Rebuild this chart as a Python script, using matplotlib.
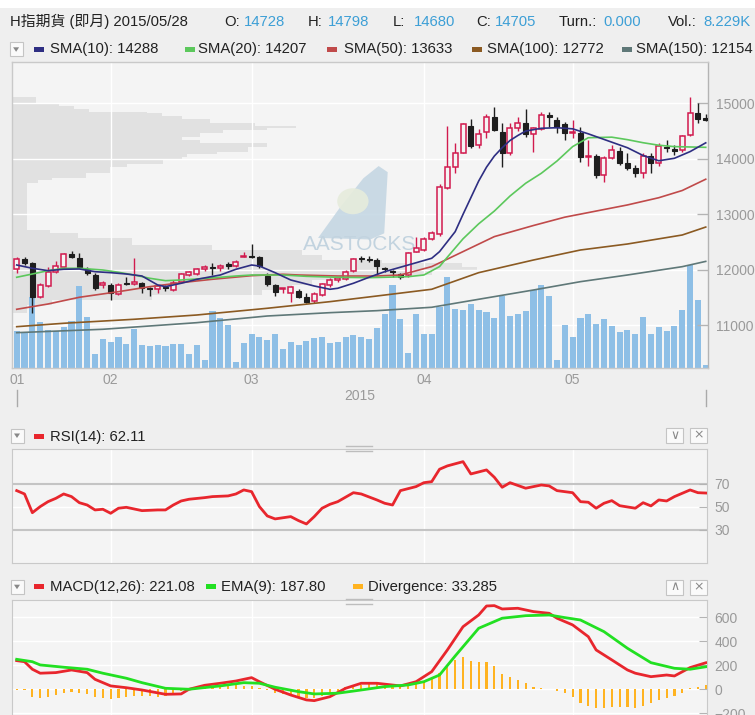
import numpy as np
import matplotlib
matplotlib.use("Agg")
import matplotlib.pyplot as plt
from matplotlib.patches import Rectangle, Polygon, Ellipse
from matplotlib.lines import Line2D
import matplotlib.transforms as mtransforms

# ---------------- data ----------------
instrument = "H指期貨 (即月)"
last_date = "2015/05/28"
month_labels = ["01", "02", "03", "04", "05"]
month_start_idx = [0, 12, 30, 52, 71]
year_label = "2015"

opens = [12012, 12192, 12120, 11519, 11711, 11969, 12059, 12287, 12210, 12012,
         11909, 11729, 11729, 11567, 11760, 11747, 11760, 11670, 11652, 11688,
         11639, 11789, 11909, 11922, 12012, 12059, 12030, 12102, 12071, 12228,
         12251, 12228, 11891, 11724, 11652, 11579, 11621, 11519, 11441, 11549,
         11729, 11819, 11842, 11981, 12210, 12200, 12174, 12030, 11981, 11922,
         11909, 12329, 12359, 12557, 12642, 13470, 13859, 14111, 14597, 14249,
         14489, 14759, 14489, 14100, 14550, 14640, 14449, 14532, 14789, 14699,
         14627, 14471, 14471, 14040, 14051, 13710, 14010, 14141, 13920, 13830,
         13740, 14057, 13920, 14219, 14180, 14159, 14429, 14820, 14728]
highs = [12228, 12228, 12150, 11771, 12048, 12167, 12311, 12347, 12311, 12059,
         11940, 11807, 11760, 11760, 11879, 12210, 11789, 11699, 11729, 11729,
         11819, 11940, 11981, 12041, 12089, 12131, 12107, 12149, 12179, 12330,
         12467, 12251, 11940, 11747, 11680, 11711, 11652, 11579, 11609, 11771,
         11849, 11879, 11999, 12221, 12251, 12251, 12221, 12059, 11999, 11951,
         12329, 12599, 12599, 12701, 13553, 14597, 14280, 14640, 14712, 14540,
         14802, 14939, 14640, 14640, 14759, 14897, 14579, 14849, 14849, 14759,
         14669, 14699, 14579, 14339, 14082, 14051, 14249, 14219, 14100, 13889,
         14100, 14100, 14280, 14339, 14249, 14429, 15108, 15000, 14798]
lows = [11940, 12090, 11220, 11490, 11699, 11951, 12048, 12210, 12048, 11909,
        11639, 11670, 11459, 11549, 11729, 11729, 11591, 11531, 11580, 11627,
        11627, 11778, 11891, 11909, 11987, 11909, 11987, 12012, 12048, 12228,
        12210, 12030, 11711, 11531, 11580, 11429, 11490, 11399, 11399, 11531,
        11688, 11789, 11819, 11969, 12150, 12150, 11909, 11969, 11879, 11832,
        11879, 12318, 12341, 12539, 12606, 13452, 13740, 14100, 14190, 14190,
        14381, 14501, 13859, 14069, 14501, 14399, 14129, 14519, 14579, 14471,
        14339, 14370, 13949, 13871, 13650, 13589, 13992, 13889, 13799, 13679,
        13650, 13740, 13871, 14129, 14069, 14129, 14411, 14640, 14680]
closes = [12192, 12131, 11519, 11729, 11969, 12071, 12287, 12239, 12059, 11940,
          11670, 11760, 11591, 11729, 11742, 11789, 11670, 11652, 11711, 11670,
          11771, 11922, 11958, 12017, 12059, 12030, 12077, 12077, 12149, 12245,
          12228, 12077, 11747, 11609, 11665, 11688, 11519, 11429, 11561, 11742,
          11819, 11849, 11970, 12192, 12192, 12185, 12077, 12012, 11963, 11879,
          12300, 12390, 12552, 12660, 13499, 13859, 14111, 14622, 14231, 14442,
          14759, 14519, 14100, 14550, 14651, 14442, 14550, 14789, 14748, 14579,
          14471, 14489, 14039, 14051, 13710, 14010, 14160, 13920, 13830, 13740,
          14057, 13920, 14231, 14200, 14150, 14411, 14820, 14712, 14705]
volume_k = [92, 88, 178, 114, 94, 92, 102, 117, 204, 128,
            34, 72, 65, 78, 59, 98, 57, 55, 57, 54,
            60, 60, 36, 57, 21, 142, 124, 107, 15, 62,
            84, 78, 69, 84, 48, 65, 57, 68, 76, 78,
            62, 65, 78, 82, 78, 72, 101, 136, 207, 122,
            37, 136, 86, 86, 152, 228, 148, 146, 161, 146,
            140, 125, 180, 130, 136, 142, 194, 207, 180, 21,
            108, 78, 125, 134, 110, 122, 104, 90, 96, 86,
            128, 84, 102, 92, 104, 146, 257, 169, 8.229]
turnover = 0.000

sma10_idx = [0, 2, 4, 6, 8, 10, 12, 14, 16, 18, 19, 21, 23, 26, 28, 30, 31, 33, 35, 38,
             40, 41, 43, 45, 47, 50, 53, 54, 56, 57, 58, 59, 60, 61, 62, 63, 64, 65, 67, 69,
             71, 73, 75, 78, 80, 82, 84, 86, 88]
sma10_val = [12089, 12030, 11987, 12012, 12017, 11969, 11951, 11927, 11891, 11730,
             11699, 11760, 11831, 11909, 12012, 12089, 12070, 11951, 11819, 11711,
             11652, 11670, 11760, 11868, 11969, 12089, 12210, 12329, 12689, 13000,
             13300, 13600, 13850, 14050, 14200, 14330, 14420, 14500, 14550, 14560,
             14540, 14450, 14350, 14200, 14060, 13965, 14010, 14130, 14288]
sma20_idx = [0, 2, 4, 6, 8, 11, 13, 15, 17, 19, 21, 23, 26, 28, 30, 34, 37, 41, 45, 50,
             52, 54, 55, 57, 59, 61, 63, 65, 67, 69, 71, 73, 76, 78, 80, 82, 84, 88]
sma20_val = [11868, 11927, 11987, 12030, 12030, 11999, 11958, 11909, 11850, 11807,
             11819, 11837, 11868, 11891, 11909, 11909, 11885, 11868, 11861, 11879,
             11909, 12060, 12230, 12560, 12830, 13060, 13330, 13560, 13740, 13960,
             14220, 14380, 14390, 14345, 14290, 14245, 14220, 14207]
sma50_idx = [0, 4, 8, 13, 17, 21, 25, 30, 34, 36, 41, 46, 49, 53, 57, 61, 66, 70, 74, 78,
             82, 85, 88]
sma50_val = [11292, 11387, 11508, 11609, 11699, 11771, 11832, 11897, 11922, 11909,
             11891, 11891, 11909, 12060, 12330, 12600, 12800, 12950, 13060, 13170,
             13300, 13430, 13633]
sma100_idx = [0, 6, 15, 23, 32, 40, 46, 53, 59, 66, 72, 78, 85, 88]
sma100_val = [10979, 11040, 11112, 11189, 11310, 11429, 11531, 11652, 11951, 12179,
              12359, 12467, 12629, 12772]
sma150_idx = [0, 11, 23, 32, 40, 46, 53, 59, 66, 72, 78, 85, 88]
sma150_val = [10871, 10932, 11051, 11171, 11231, 11267, 11328, 11472, 11639, 11789,
              11909, 12059, 12154]

# volume-by-price profile (bin edges in price, relative volume per bin)
profile_edges = [15108, 15011, 14951, 14892, 14849, 14820, 14771, 14712, 14651, 14591,
                 14550, 14519, 14471, 14388, 14339, 14280, 14208, 14129, 14087, 14039,
                 13979, 13907, 13848, 13740, 13650, 13619, 13560, 12719, 12660, 12570,
                 12450, 12359, 12269, 12179, 12120, 12059, 11999, 11909, 11819, 11729,
                 11639, 11549, 11459, 11369, 11225]
profile_vol = [24, 47, 62, 77, 135, 150, 170, 198, 243, 284,
               255, 211, 188, 170, 188, 255, 236, 205, 175, 170,
               151, 115, 98, 74, 40, 26, 15, 38, 66, 120,
               200, 290, 310, 370, 450, 465, 420, 330, 300, 280,
               250, 140, 40, 15]

rsi_idx = [0, 1, 2, 3, 4, 5, 6, 7, 8, 9, 10, 11, 12, 13, 14, 16, 18, 19, 20, 21,
           22, 24, 25, 27, 28, 29, 30, 31, 32, 33, 35, 36, 37, 38, 39, 40, 41, 43, 44, 46,
           47, 48, 49, 51, 52, 53, 54, 55, 57, 58, 60, 61, 62, 63, 65, 67, 68, 69, 71, 72,
           73, 74, 75, 76, 77, 79, 80, 81, 82, 83, 84, 86, 87, 88]
rsi_val = [64.2, 61.3, 45, 50.3, 54.6, 57.5, 61.3, 59, 53.7, 51.7, 47.4, 48, 44.5, 48.9, 49.7,
           46.8, 47.4, 47.4, 51.7, 55.2, 56.7, 58.1, 59, 59.6, 61.3, 64.8, 63.3, 50.3, 42.2, 39.6,
           41.6, 38.1, 35.2, 41.6, 48.9, 52.3, 54.6, 62.4, 61.3, 56.1, 53.2, 51.7, 64.2, 67.7, 71.1,
           72, 82.8, 85.7, 89.4, 78.7, 82.2, 75.8, 67.1, 71.1, 66.3, 69.1, 68.3, 64.2, 62.4, 54.6,
           54.1, 48.9, 53.2, 55.5, 51.1, 48.9, 53.7, 50.9, 56.1, 55.2, 59, 64.8, 62.4, 62.11]

macd_idx = [0, 1, 2, 3, 5, 7, 9, 10, 12, 14, 16, 19, 21, 22, 24, 26, 28, 30, 31, 33,
            35, 37, 38, 40, 42, 44, 46, 49, 51, 52, 53, 55, 57, 59, 60, 61, 62, 64, 66, 68,
            69, 71, 73, 74, 76, 78, 79, 81, 83, 84, 86, 88]
macd_val = [239, 230, 167, 134, 139, 161, 139, 83, 28, 13, -6, -42, -39, 0, 33, 50, 69, 97, 63, 0,
            -48, -89, -95, -62, 8, 50, 50, 28, 63, 105, 147, 328, 522, 620, 695, 698, 670, 676, 648, 634,
            593, 537, 439, 328, 245, 161, 134, 105, 119, 111, 181, 221.08]
ema_idx = [0, 2, 3, 6, 9, 11, 14, 16, 19, 22, 26, 29, 31, 33, 36, 38, 41, 44, 47, 50,
           52, 54, 56, 59, 62, 65, 68, 70, 72, 75, 78, 81, 84, 86, 88]
ema_val = [250, 230, 203, 184, 167, 134, 92, 55, 8, 0, 28, 55, 50, 17, -20, -39, -33, -6, 22, 36,
           63, 119, 278, 509, 593, 614, 620, 598, 578, 481, 342, 222, 175, 167, 187.80]
divergence = [-5, -8, -67, -75, -61, -47, -28, -19, -28, -39,
              -61, -75, -81, -70, -61, -56, -53, -56, -61, -56,
              -39, -11, 0, 17, 22, 17, 28, 31, 36, 28,
              28, 8, -10, -28, -39, -47, -61, -75, -75, -56,
              -28, -11, 17, 28, 36, 50, 45, 36, 28, 22,
              36, 50, 64, 100, 134, 189, 245, 267, 239, 231,
              231, 195, 128, 106, 78, 50, 22, 8, 0, -11,
              -33, -61, -111, -139, -159, -159, -150, -150, -145, -159,
              -139, -117, -89, -75, -56, -28, 8, 22, 33.285]

# ---------------- styling ----------------
W, H = 755, 715
BG_FIG = "#efefef"
BG_PLOT = "#f4f4f4"
FRAME = "#c9c9c9"
LBL = "#9a9a9a"
DARK = "#222222"
BLUEVAL = "#3d9fd6"
UP = "#d11a4e"
DOWN = "#1e1e1e"
VOLC = "#8ebfe6"
PROF = "#e1e1e1"
C10, C20, C50, C100, C150 = "#2e2e82", "#5cc85c", "#c04a4a", "#8b5a22", "#5f7878"
RSIC = "#e8262d"
MACDC, EMAC, DIVC = "#e8262d", "#22e022", "#ffb320"
LAT = ["Liberation Sans", "DejaVu Sans"]
CJK = ["Liberation Sans", "Noto Sans CJK TC", "DejaVu Sans"]

fig = plt.figure(figsize=(W / 100, H / 100), dpi=100)
fig.patch.set_facecolor(BG_FIG)


def rect_px(x0, y0, x1, y1):
    return [x0 / W, 1 - y1 / H, (x1 - x0) / W, (y1 - y0) / H]


def fx(x):
    return x / W


def fy(y):
    return 1 - y / H


def px_rect(x0, y0, x1, y1, **kw):
    r = Rectangle((fx(x0), fy(y1)), (x1 - x0) / W, (y1 - y0) / H,
                  transform=fig.transFigure, **kw)
    fig.add_artist(r)
    return r


def px_line(xs, ys, **kw):
    fig.add_artist(Line2D([fx(x) for x in xs], [fy(y) for y in ys],
                          transform=fig.transFigure, **kw))


def px_text(x, y, s, **kw):
    kw.setdefault("family", LAT)
    kw.setdefault("va", "center")
    kw.setdefault("ha", "left")
    fig.text(fx(x), fy(y), s, **kw)


def menu_box(x0, yc):
    px_rect(x0, yc - 7, x0 + 13, yc + 7, facecolor="#fafafa", edgecolor="#c4c4c4", lw=0.8)
    cx = x0 + 6.5
    fig.add_artist(Polygon([(fx(cx - 3), fy(yc - 2)), (fx(cx + 3), fy(yc - 2)),
                            (fx(cx), fy(yc + 2.5))], closed=True, transform=fig.transFigure,
                           facecolor="#888888", edgecolor="none"))


def button(x0, yc, glyph):
    px_rect(x0, yc - 7.5, x0 + 17, yc + 7.5, facecolor="#fafafa", edgecolor="#c4c4c4", lw=0.8)
    px_text(x0 + 8.5, yc, glyph, ha="center", color="#888888", fontsize=9,
            family=["DejaVu Sans"])


def dash(x0, yc, color, w=10):
    px_rect(x0, yc - 2.5, x0 + w, yc + 2.5, facecolor=color, edgecolor="none")


idx = np.arange(len(closes))
o = np.array(opens, float)
c = np.array(closes, float)
hi = np.array(highs, float)
lo = np.array(lows, float)
XL = (-0.64, 88.29)

# ---------------- main price panel ----------------
main_rect = rect_px(11.7, 62, 708, 368)
axv = fig.add_axes(main_rect)
axv.set_facecolor(BG_PLOT)
axv.set_xlim(*XL)
axv.set_ylim(0, 765)
for s in axv.spines.values():
    s.set_visible(False)
axv.tick_params(left=False, labelleft=False, bottom=False, labelbottom=False)

ax = fig.add_axes(main_rect, sharex=axv)
ax.patch.set_visible(False)
ax.set_ylim(10235, 15743)
ax.set_xlim(*XL)

blend = mtransforms.blended_transform_factory(axv.transAxes, ax.transData)
pmax = max(profile_vol)
for k, v in enumerate(profile_vol):
    top, bot = profile_edges[k], profile_edges[k + 1]
    axv.add_patch(Rectangle((0, bot), v / pmax * 0.668, top - bot, transform=blend,
                            facecolor=PROF, edgecolor="none", zorder=1))

price_ticks = [11000, 12000, 13000, 14000, 15000]
for p in price_ticks:
    axv.add_line(Line2D([0, 1], [p, p], transform=blend, color="white", lw=1, zorder=1.5))
for m in month_start_idx[1:]:
    axv.axvline(m, color="white", lw=1, zorder=1.5)

axv.bar(idx, volume_k, width=0.78, color=VOLC, zorder=2)

# watermark
wm = [(0.440, 0.425), (0.470, 0.520), (0.505, 0.620), (0.527, 0.660), (0.540, 0.640),
      (0.535, 0.440), (0.515, 0.420)]
ax.add_patch(Polygon(wm, closed=True, transform=ax.transAxes, facecolor="#c2d5e2",
                     edgecolor="none", alpha=0.85, zorder=1))
ax.add_patch(Ellipse((0.490, 0.545), 0.045, 0.085, transform=ax.transAxes,
                     facecolor="#e6ecdc", edgecolor="none", alpha=0.9, zorder=1.1))
ax.text(0.5, 0.405, "AASTOCKS", transform=ax.transAxes, ha="center", va="center",
        fontsize=15, color="#c2d3df", family=LAT, zorder=1.2)

# candles
up = c >= o
wick_col = [UP if u else DOWN for u in up]
ax.vlines(idx, lo, hi, colors=wick_col, lw=1, zorder=3)
body_bot = np.minimum(o, c)
body_h = np.maximum(np.abs(c - o), 14)
ax.bar(idx[up], body_h[up], bottom=body_bot[up], width=0.64, facecolor=BG_PLOT,
       edgecolor=UP, lw=1.1, zorder=4)
ax.bar(idx[~up], body_h[~up], bottom=body_bot[~up], width=0.64, facecolor=DOWN,
       edgecolor=DOWN, lw=0.8, zorder=4)

for xs, ys, col in [(sma150_idx, sma150_val, C150), (sma100_idx, sma100_val, C100),
                    (sma50_idx, sma50_val, C50), (sma20_idx, sma20_val, C20),
                    (sma10_idx, sma10_val, C10)]:
    ax.plot(xs, ys, color=col, lw=1.2, zorder=5)

ax.yaxis.tick_right()
ax.set_yticks(price_ticks)
ax.set_yticklabels([str(p) for p in price_ticks])
ax.tick_params(axis="y", direction="in", length=8, width=1, color="#b4b4b4",
               labelcolor=LBL, labelsize=10, pad=5.5)
ax.set_xticks(month_start_idx)
ax.set_xticklabels(month_labels)
ax.tick_params(axis="x", length=0, labelcolor=LBL, labelsize=10, pad=3.5)
for lab in ax.get_xticklabels() + ax.get_yticklabels():
    lab.set_family(LAT)
for s in ax.spines.values():
    s.set_color(FRAME)
    s.set_linewidth(1)
ax.spines["right"].set_color("#b4b4b4")

# year label and range markers
px_text(360, 396, year_label, ha="center", color=LBL, fontsize=10)
ybl = mtransforms.blended_transform_factory(ax.transData, fig.transFigure)
for xi in (idx[0], idx[-1]):
    fig.add_artist(Line2D([xi, xi], [fy(390), fy(406)], transform=ybl, color="#aaaaaa", lw=1))

# ---------------- RSI panel ----------------
XL2 = (-0.60, 88.12)
axr = fig.add_axes(rect_px(12, 449, 706.7, 563.3))
axr.set_facecolor(BG_PLOT)
axr.set_xlim(*XL2)
axr.set_ylim(1, 100.4)
for m in month_start_idx[1:]:
    axr.axvline(m, color="white", lw=1, zorder=1)
axr.axhline(50, color="white", lw=1, zorder=1)
axr.axhline(70, color="#c4c4c4", lw=1.5, zorder=1.5)
axr.axhline(30, color="#c4c4c4", lw=1.5, zorder=1.5)
axr.plot(rsi_idx, rsi_val, color=RSIC, lw=2, zorder=3)
axr.yaxis.tick_right()
axr.set_yticks([30, 50, 70])
axr.tick_params(axis="y", direction="in", length=6, color="#b4b4b4", labelcolor=LBL,
                labelsize=10, pad=5.5)
axr.tick_params(axis="x", bottom=False, labelbottom=False)
for lab in axr.get_yticklabels():
    lab.set_family(LAT)
for s in axr.spines.values():
    s.set_color(FRAME)

# ---------------- MACD panel ----------------
axm = fig.add_axes(rect_px(12, 600, 706.7, 730))
axm.set_facecolor(BG_PLOT)
axm.set_xlim(*XL2)
axm.set_ylim(-340, 745)
macd_ticks = [-200, 0, 200, 400, 600]
for m in month_start_idx[1:]:
    axm.axvline(m, color="white", lw=1, zorder=1)
for t in macd_ticks:
    axm.axhline(t, color="white", lw=1, zorder=1)
axm.bar(idx, divergence, width=0.28, color=DIVC, zorder=2)
axm.plot(macd_idx, macd_val, color=MACDC, lw=2, zorder=3)
axm.plot(ema_idx, ema_val, color=EMAC, lw=2, zorder=4)
axm.yaxis.tick_right()
axm.set_yticks(macd_ticks)
axm.tick_params(axis="y", direction="in", length=6, color="#b4b4b4", labelcolor=LBL,
                labelsize=10, pad=5.5)
axm.tick_params(axis="x", bottom=False, labelbottom=False)
for lab in axm.get_yticklabels():
    lab.set_family(LAT)
for s in axm.spines.values():
    s.set_color(FRAME)

# ---------------- header texts ----------------
FS = 10.7
px_rect(0, 0, W, 8, facecolor="white", edgecolor="none")
px_text(10, 21.7, f"{instrument} {last_date}", color=DARK, fontsize=FS, family=CJK)
row1 = [(224.5, "O:", f"{opens[-1]}", 244), (307.7, "H:", f"{highs[-1]}", 328),
        (393, "L:", f"{lows[-1]}", 413.5), (476, "C:", f"{closes[-1]}", 495),
        (559, "Turn.:", f"{turnover:.3f}", 603), (668, "Vol.:", f"{volume_k[-1]:.3f}K", 703)]
for xl, lab, val, xv in row1:
    px_text(xl, 21.7, lab, color=DARK, fontsize=FS)
    px_text(xv, 21.7, val, color=BLUEVAL, fontsize=FS)

menu_box(9.6, 49.3)
legend_items = [(33.7, C10, f"SMA(10): {sma10_val[-1]}", 50.5),
                (185, C20, f"SMA(20): {sma20_val[-1]}", 198),
                (327, C50, f"SMA(50): {sma50_val[-1]}", 344),
                (472, C100, f"SMA(100): {sma100_val[-1]}", 487),
                (622, C150, f"SMA(150): {sma150_val[-1]}", 636)]
for xd, col, txt, xt in legend_items:
    dash(xd, 49.3, col)
    px_text(xt, 49.3, txt, color=DARK, fontsize=FS)

# RSI header
menu_box(10.5, 435.5)
dash(33.7, 436.7, RSIC)
px_text(50.5, 436.7, f"RSI(14): {rsi_val[-1]:.2f}", color=DARK, fontsize=FS)
button(666, 435, "\u2228")
button(690, 435, "\u00d7")
px_line([346, 372], [445.5, 445.5], color="#bdbdbd", lw=1)
px_line([346, 372], [451, 451], color="#bdbdbd", lw=1)

# MACD header
menu_box(10.5, 586.7)
dash(33.7, 586.7, MACDC)
px_text(50.5, 586.7, f"MACD(12,26): {macd_val[-1]:.2f}", color=DARK, fontsize=FS)
dash(206, 586.7, EMAC)
px_text(221, 586.7, f"EMA(9): {ema_val[-1]:.2f}", color=DARK, fontsize=FS)
dash(353, 586.7, DIVC)
px_text(368, 586.7, f"Divergence: {divergence[-1]:.3f}", color=DARK, fontsize=FS)
button(666, 587, "\u2227")
button(690, 587, "\u00d7")
px_line([346, 372], [598.5, 598.5], color="#bdbdbd", lw=1)
px_line([346, 372], [604, 604], color="#bdbdbd", lw=1)

fig.savefig("out.png", dpi=100, facecolor=fig.get_facecolor())
